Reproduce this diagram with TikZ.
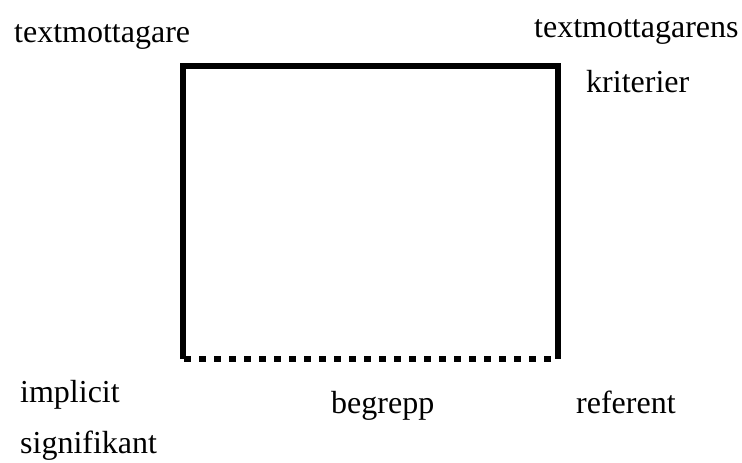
\documentclass[tikz,border=0pt]{standalone}
\usepackage{fontspec}
\setmainfont{Liberation Serif}
\begin{document}
\begin{tikzpicture}[x=1pt,y=-1pt,
  label/.style={anchor=base west,inner sep=0pt,font=\fontsize{32}{36}\selectfont},
  side/.style={line width=6.5pt,line cap=butt,line join=miter},
  dotline/.style={line width=6.5pt,dash pattern=on 6.5pt off 8.5pt,dash phase=-1pt}]
\useasboundingbox (0,0) rectangle (742,463);
% corners of the square
\coordinate (bl) at (183,359);
\coordinate (tl) at (183,66);
\coordinate (tr) at (558,66);
\coordinate (br) at (558,359);
\draw[side] (bl) -- (tl) -- (tr) -- (br);
\draw[dotline] (bl) -- (br);
% labels
\node[label] (tm) at (14,42) {textmottagare};
\node[label] (tms) at (534,37) {textmottagarens};
\node[label] (kr) at (586,92) {kriterier};
\node[label] (imp) at (20,402) {implicit};
\node[label] (sig) at (20,453) {signifikant};
\node[label] (beg) at (331,413) {begrepp};
\node[label] (ref) at (576,413) {referent};
\end{tikzpicture}
\end{document}
